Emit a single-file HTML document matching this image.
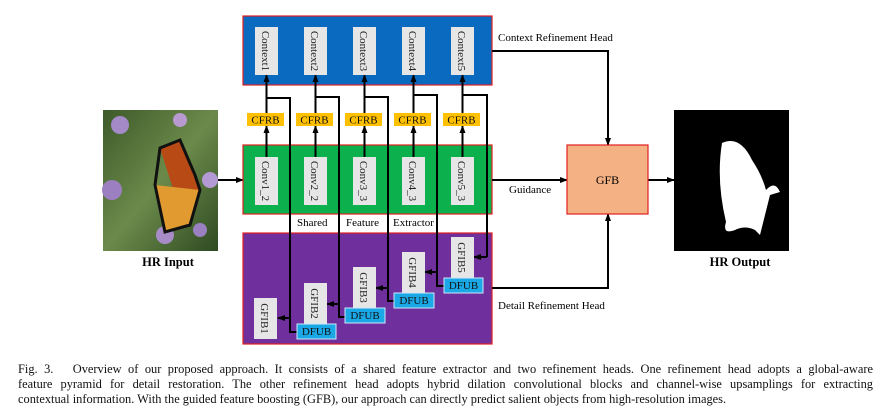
<!DOCTYPE html>
<html><head><meta charset="utf-8"><style>
body{margin:0;background:#fff;width:886px;height:418px;overflow:hidden;position:relative;font-family:"Liberation Serif",serif}
.cap{position:absolute;left:18px;width:855px;font-size:12.4px;line-height:15px;color:#111;text-align:justify;text-align-last:justify;white-space:nowrap}
</style></head><body>
<svg width="886" height="418" style="position:absolute;left:0;top:0" font-family="Liberation Serif, serif">
<defs>
<marker id="a" markerWidth="8" markerHeight="8" refX="7" refY="4" orient="auto" markerUnits="userSpaceOnUse"><path d="M0,1 L8,4 L0,7 Z" fill="#000"/></marker>
<linearGradient id="bg" x1="0" y1="0" x2="1" y2="1"><stop offset="0" stop-color="#3d5a2a"/><stop offset="0.5" stop-color="#6b8a4a"/><stop offset="1" stop-color="#2e4a22"/></linearGradient>
</defs>
<rect x="103" y="110" width="115" height="141" fill="url(#bg)"/>
<circle cx="120" cy="125" r="9" fill="#a58ac8"/><circle cx="180" cy="120" r="7" fill="#b89ad0"/><circle cx="112" cy="190" r="10" fill="#9c7fc0"/><circle cx="210" cy="180" r="8" fill="#b49ad4"/><circle cx="165" cy="235" r="9" fill="#a88cc8"/><circle cx="200" cy="230" r="7" fill="#9a80c0"/>
<path d="M160,148 L180,140 L195,175 L200,190 L175,195 Z" fill="#b84a16"/>
<path d="M155,185 L200,190 L190,225 L165,232 Z" fill="#e09a30"/>
<path d="M160,148 L180,140 L195,175 L200,190 L190,225 L165,232 L155,185 Z" fill="none" stroke="#111" stroke-width="3"/>
<rect x="674" y="110" width="115" height="141" fill="#000"/>
<path d="M722,143 Q740,135 752,160 Q762,175 766,190 Q775,180 780,192 L770,195 Q765,215 760,235 L755,230 Q745,225 735,230 Q722,235 726,222 Q716,180 722,143 Z" fill="#fff"/>
<line x1="218" y1="180" x2="243" y2="180" stroke="#000" stroke-width="2" marker-end="url(#a)"/>
<rect x="243" y="16" width="249" height="69" fill="#0a6ac0" stroke="#e02020" stroke-width="1.2"/>
<rect x="243" y="145" width="249" height="69" fill="#0cb04c" stroke="#e02020" stroke-width="1.2"/>
<rect x="243" y="233" width="249" height="111" fill="#6f2f9c" stroke="#e02020" stroke-width="1.2"/>
<g font-size="11">
<text x="297" y="226">Shared</text><text x="346" y="226">Feature</text><text x="393" y="226">Extractor</text>
<text x="498" y="41">Context Refinement Head</text>
<text x="509" y="193">Guidance</text>
<text x="498" y="309">Detail Refinement Head</text>
</g>
<g stroke="#000" stroke-width="2" fill="none">
<line x1="266.5" y1="157" x2="266.5" y2="126" marker-end="url(#a)"/><line x1="266.5" y1="113" x2="266.5" y2="75" marker-end="url(#a)"/>
<line x1="315.5" y1="157" x2="315.5" y2="126" marker-end="url(#a)"/><line x1="315.5" y1="113" x2="315.5" y2="75" marker-end="url(#a)"/>
<line x1="364.5" y1="157" x2="364.5" y2="126" marker-end="url(#a)"/><line x1="364.5" y1="113" x2="364.5" y2="75" marker-end="url(#a)"/>
<line x1="413.5" y1="157" x2="413.5" y2="126" marker-end="url(#a)"/><line x1="413.5" y1="113" x2="413.5" y2="75" marker-end="url(#a)"/>
<line x1="462.5" y1="157" x2="462.5" y2="126" marker-end="url(#a)"/><line x1="462.5" y1="113" x2="462.5" y2="75" marker-end="url(#a)"/>
<polyline points="266.5,98 290,98 290,332 297,332"/><line x1="290" y1="318" x2="278" y2="318" marker-end="url(#a)"/>
<polyline points="315.5,97 339,97 339,317 345,317"/><line x1="339" y1="304" x2="327" y2="304" marker-end="url(#a)"/>
<polyline points="364.5,97 388,97 388,301 394,301"/><line x1="388" y1="288" x2="376" y2="288" marker-end="url(#a)"/>
<polyline points="413.5,95 437,95 437,286 444,286"/><line x1="437" y1="272" x2="425" y2="272" marker-end="url(#a)"/>
<polyline points="462.5,95 487,95 487,257"/><line x1="487" y1="257" x2="474" y2="257" marker-end="url(#a)"/>
<polyline points="492,51 608,51 608,145" marker-end="url(#a)"/>
<line x1="492" y1="180" x2="567" y2="180" marker-end="url(#a)"/>
<polyline points="492,288 608,288 608,214" marker-end="url(#a)"/>
<line x1="648" y1="180" x2="674" y2="180" marker-end="url(#a)"/>
</g>
<rect x="567" y="145" width="81" height="69" fill="#f4b183" stroke="#e02020" stroke-width="1.2"/>
<text x="607.5" y="184" font-size="12" text-anchor="middle">GFB</text>
<g fill="#e6e6e6">
<rect x="255" y="27" width="23" height="48"/><rect x="304" y="27" width="23" height="48"/><rect x="353" y="27" width="23" height="48"/><rect x="402" y="27" width="23" height="48"/><rect x="451" y="27" width="23" height="48"/>
<rect x="255" y="157" width="23" height="48"/><rect x="304" y="157" width="23" height="48"/><rect x="353" y="157" width="23" height="48"/><rect x="402" y="157" width="23" height="48"/><rect x="451" y="157" width="23" height="48"/>
<rect x="254" y="298" width="23" height="41"/><rect x="304" y="283" width="23" height="41"/><rect x="353" y="267" width="23" height="41"/><rect x="402" y="252" width="23" height="41"/><rect x="451" y="237" width="23" height="41"/>
</g>
<g font-size="11" fill="#222">
<text transform="translate(262,51) rotate(90)" text-anchor="middle">Context1</text>
<text transform="translate(311,51) rotate(90)" text-anchor="middle">Context2</text>
<text transform="translate(360,51) rotate(90)" text-anchor="middle">Context3</text>
<text transform="translate(409,51) rotate(90)" text-anchor="middle">Context4</text>
<text transform="translate(458,51) rotate(90)" text-anchor="middle">Context5</text>
<text transform="translate(262,181) rotate(90)" text-anchor="middle">Conv1_2</text>
<text transform="translate(311,181) rotate(90)" text-anchor="middle">Conv2_2</text>
<text transform="translate(360,181) rotate(90)" text-anchor="middle">Conv3_3</text>
<text transform="translate(409,181) rotate(90)" text-anchor="middle">Conv4_3</text>
<text transform="translate(458,181) rotate(90)" text-anchor="middle">Conv5_3</text>
<text transform="translate(261,318.5) rotate(90)" text-anchor="middle">GFIB1</text>
<text transform="translate(311,303.5) rotate(90)" text-anchor="middle">GFIB2</text>
<text transform="translate(360,287.5) rotate(90)" text-anchor="middle">GFIB3</text>
<text transform="translate(409,272.5) rotate(90)" text-anchor="middle">GFIB4</text>
<text transform="translate(458,257.5) rotate(90)" text-anchor="middle">GFIB5</text>
</g>
<g fill="#ffc000">
<rect x="247" y="113" width="37" height="13"/><rect x="296" y="113" width="37" height="13"/><rect x="345" y="113" width="37" height="13"/><rect x="394" y="113" width="37" height="13"/><rect x="443" y="113" width="37" height="13"/>
</g>
<g font-size="11" text-anchor="middle" fill="#111">
<text x="265.5" y="123.5">CFRB</text><text x="314.5" y="123.5">CFRB</text><text x="363.5" y="123.5">CFRB</text><text x="412.5" y="123.5">CFRB</text><text x="461.5" y="123.5">CFRB</text>
</g>
<g fill="#1aa8e6" stroke="#cfe8f8" stroke-width="1">
<rect x="297" y="324" width="39" height="15"/><rect x="345" y="308" width="40" height="15"/><rect x="394" y="293" width="40" height="15"/><rect x="444" y="278" width="39" height="15"/>
</g>
<g font-size="11" text-anchor="middle" fill="#111">
<text x="316.5" y="335">DFUB</text><text x="365" y="319">DFUB</text><text x="414" y="304">DFUB</text><text x="463.5" y="289">DFUB</text>
</g>
<g font-size="12.5" font-weight="bold" text-anchor="middle">
<text x="168" y="266">HR Input</text><text x="740" y="266">HR Output</text>
</g>
</svg>
<div class="cap" style="top:362px">Fig. 3. &nbsp;&nbsp;Overview of our proposed approach. It consists of a shared feature extractor and two refinement heads. One refinement head adopts a global-aware</div>
<div class="cap" style="top:377px">feature pyramid for detail restoration. The other refinement head adopts hybrid dilation convolutional blocks and channel-wise upsamplings for extracting</div>
<div class="cap" style="top:392px;text-align-last:left">contextual information. With the guided feature boosting (GFB), our approach can directly predict salient objects from high-resolution images.</div>
</body></html>
